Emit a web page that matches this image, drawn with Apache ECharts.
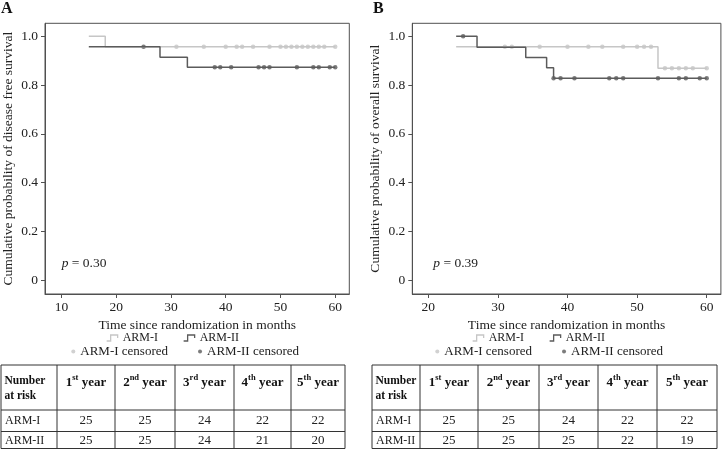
<!DOCTYPE html>
<html><head><meta charset="utf-8">
<script src="https://cdn.jsdelivr.net/npm/echarts@6/dist/echarts.min.js"></script>
<style>html,body{margin:0;padding:0;background:#fff}#c{width:722px;height:449px}</style>
</head><body><div id="c"></div>
<script>
// ---- Panel A: disease free survival ----
const dfsArm1Time = [15, 18, 60];
const dfsArm1Surv = [1.0, 0.957, 0.957];
const dfsArm2Time = [15, 28, 33, 60];
const dfsArm2Surv = [0.957, 0.914, 0.873, 0.873];
const dfsArm1Censor = [31, 36, 40, 42, 43, 45, 48, 50, 51, 52, 53, 54, 55, 56, 57, 58, 60];
const dfsArm2Censor = [25, 38, 39, 41, 46, 47, 48, 53, 56, 57, 59, 60];
// ---- Panel B: overall survival ----
const osArm1Time = [24, 53, 60];
const osArm1Surv = [0.957, 0.869, 0.869];
const osArm2Time = [24, 27, 34, 37, 38, 60];
const osArm2Surv = [1.0, 0.955, 0.913, 0.871, 0.828, 0.828];
const osArm1Censor = [31, 32, 36, 40, 43, 45, 48, 50, 51, 52, 54, 55, 56, 57, 58, 60];
const osArm2Censor = [25, 38, 39, 41, 46, 47, 48, 53, 56, 57, 59, 60];

const xTicksA = [10, 20, 30, 40, 50, 60];
const xTicksB = [20, 30, 40, 50, 60];
const yTicks = [0, 0.2, 0.4, 0.6, 0.8, 1.0];
const pValueA = '0.30';
const pValueB = '0.39';

// ---- Number at risk tables ----
const riskRowLabels = ['ARM-I', 'ARM-II'];
const riskYearNum = ['1', '2', '3', '4', '5'];
const riskYearSup = ['st', 'nd', 'rd', 'th', 'th'];
const riskA1 = [25, 25, 24, 22, 22];
const riskA2 = [25, 25, 24, 21, 20];
const riskB1 = [25, 25, 24, 22, 22];
const riskB2 = [25, 25, 25, 22, 19];

const FONT = '"Liberation Serif", "Times New Roman", serif';
const LIGHT = '#c6c6c6';
const DARK = '#5b5b5b';
const FRAME = '#505050';

function zip(t, s) { return t.map((v, i) => [v, s[i]]); }
function survAt(t, s, x) { let v = s[0]; for (let i = 0; i < t.length; i++) if (t[i] <= x) v = s[i]; return v; }
function censorPts(t, s, c) { return c.map(x => [x, survAt(t, s, x)]); }

const chart = echarts.init(document.getElementById('c'), null, { renderer: 'canvas' });

function xAxisCfg(grid, min, max, ticks, name) {
  return {
    type: 'value', gridIndex: grid, min: min, max: max,
    name: name, nameLocation: 'middle', nameGap: 21,
    nameTextStyle: { fontFamily: FONT, fontSize: 13.5, color: '#222' },
    axisLine: { show: true, onZero: false, lineStyle: { color: FRAME, width: 1 } },
    axisTick: { show: true, customValues: ticks, length: 4, lineStyle: { color: FRAME } },
    axisLabel: { customValues: ticks, fontFamily: FONT, fontSize: 13.5, color: '#222', margin: 6 },
    splitLine: { show: false }
  };
}
function yAxisCfg(grid, name) {
  return {
    type: 'value', gridIndex: grid, min: -0.0574, max: 1.0533,
    name: name, nameLocation: 'middle', nameGap: 30,
    nameTextStyle: { fontFamily: FONT, fontSize: 13.5, color: '#222' },
    axisLine: { show: true, onZero: false, lineStyle: { color: FRAME, width: 1 } },
    axisTick: { show: true, customValues: yTicks, length: 4, lineStyle: { color: FRAME } },
    axisLabel: { customValues: yTicks, fontFamily: FONT, fontSize: 13.5, color: '#222', margin: 7,
      formatter: v => (v === 0 ? '0' : v.toFixed(1)) },
    splitLine: { show: false }
  };
}
function lineSeries(name, grid, t, s, color) {
  return { type: 'line', name: name, xAxisIndex: grid, yAxisIndex: grid, step: 'end',
    data: zip(t, s), showSymbol: false, silent: true,
    lineStyle: { color: color, width: 1.5 }, itemStyle: { color: color } };
}
function censorSeries(name, grid, t, s, c, color) {
  return { type: 'scatter', name: name, xAxisIndex: grid, yAxisIndex: grid,
    data: censorPts(t, s, c), symbol: 'circle', symbolSize: 4.5, silent: true,
    itemStyle: { color: color } };
}

const stepIcon = 'path://M0,6H4V0H11V3';
function legendRow1(left, top) {
  return {
    left: left, top: top, orient: 'horizontal', itemGap: 25, itemWidth: 11, itemHeight: 6,
    selectedMode: false, padding: 0,
    textStyle: { fontFamily: FONT, fontSize: 12, color: '#222' },
    data: [
      { name: 'ARM-I', icon: stepIcon, itemStyle: { color: 'rgba(0,0,0,0)', borderColor: LIGHT, borderWidth: 1.3 } },
      { name: 'ARM-II', icon: stepIcon, itemStyle: { color: 'rgba(0,0,0,0)', borderColor: DARK, borderWidth: 1.3 } }
    ]
  };
}
function legendRow2(left, top) {
  return {
    left: left, top: top, orient: 'horizontal', itemGap: 30, itemWidth: 4, itemHeight: 4,
    selectedMode: false, padding: 0,
    textStyle: { fontFamily: FONT, fontSize: 13, color: '#222' },
    data: [
      { name: 'ARM-I censored', icon: 'circle', itemStyle: { color: LIGHT } },
      { name: 'ARM-II censored', icon: 'circle', itemStyle: { color: DARK } }
    ]
  };
}

function buildTable(colX, r1, r2) {
  const els = [];
  const rowY = [365, 410, 431.5, 448.5];
  const x0 = colX[0], x1 = colX[colX.length - 1];
  rowY.forEach(y => els.push({ type: 'line', silent: true, shape: { x1: x0, y1: y, x2: x1, y2: y },
    style: { stroke: '#333', lineWidth: 1 } }));
  colX.forEach(x => els.push({ type: 'line', silent: true, shape: { x1: x, y1: rowY[0], x2: x, y2: rowY[3] },
    style: { stroke: '#333', lineWidth: 1 } }));
  els.push({ type: 'text', silent: true, x: x0 + 3.5, y: 381.5,
    style: { text: 'Number', font: 'bold 11.5px ' + FONT, fill: '#111', textAlign: 'left', textVerticalAlign: 'middle' } });
  els.push({ type: 'text', silent: true, x: x0 + 3.5, y: 396,
    style: { text: 'at risk', font: 'bold 11.5px ' + FONT, fill: '#111', textAlign: 'left', textVerticalAlign: 'middle' } });
  for (let i = 0; i < 5; i++) {
    const cx = (colX[i + 1] + colX[i + 2]) / 2;
    els.push({ type: 'text', silent: true, x: cx, y: 381.5,
      style: {
        text: '{b|' + riskYearNum[i] + '}{s|' + riskYearSup[i] + '}{b| year}',
        textAlign: 'center', textVerticalAlign: 'middle', fill: '#111',
        rich: {
          b: { fontFamily: FONT, fontWeight: 'bold', fontSize: 13, lineHeight: 16, verticalAlign: 'bottom', fill: '#111' },
          s: { fontFamily: FONT, fontWeight: 'bold', fontSize: 8.5, lineHeight: 10, verticalAlign: 'top', fill: '#111' }
        }
      } });
    [[r1, 420.5], [r2, 440.5]].forEach(([arr, y]) => {
      els.push({ type: 'text', silent: true, x: cx, y: y,
        style: { text: String(arr[i]), font: '13px ' + FONT, fill: '#222', textAlign: 'center', textVerticalAlign: 'middle' } });
    });
  }
  els.push({ type: 'text', silent: true, x: x0 + 4, y: 420.5,
    style: { text: riskRowLabels[0], font: '12px ' + FONT, fill: '#222', textAlign: 'left', textVerticalAlign: 'middle' } });
  els.push({ type: 'text', silent: true, x: x0 + 4, y: 440.5,
    style: { text: riskRowLabels[1], font: '12px ' + FONT, fill: '#222', textAlign: 'left', textVerticalAlign: 'middle' } });
  return els;
}

function pText(x, val) {
  return { type: 'text', silent: true, x: x, y: 263,
    style: { text: '{i|p} = ' + val, font: '13.5px ' + FONT, fill: '#222', textAlign: 'left', textVerticalAlign: 'middle',
      rich: { i: { fontFamily: FONT, fontStyle: 'italic', fontSize: 13.5, fill: '#222' } } } };
}

const option = {
  animation: false,
  backgroundColor: '#fff',
  grid: [
    { left: 40.7, top: 23.3, width: 308.6, height: 270.7, show: true, borderColor: FRAME, borderWidth: 1, backgroundColor: 'transparent' },
    { left: 412.3, top: 23.3, width: 308.6, height: 270.7, show: true, borderColor: FRAME, borderWidth: 1, backgroundColor: 'transparent' }
  ],
  xAxis: [
    xAxisCfg(0, 7.0, 62.57, xTicksA, 'Time since randomization in months'),
    xAxisCfg(1, 17.7, 62.04, xTicksB, 'Time since randomization in months')
  ],
  yAxis: [
    yAxisCfg(0, 'Cumulative probability of disease free survival'),
    yAxisCfg(1, 'Cumulative probability of overall survival')
  ],
  legend: [legendRow1(106, 332), legendRow2(71.3, 345), legendRow1(472, 332), legendRow2(435.3, 345)],
  series: [
    lineSeries('ARM-I', 0, dfsArm1Time, dfsArm1Surv, LIGHT),
    lineSeries('ARM-II', 0, dfsArm2Time, dfsArm2Surv, DARK),
    censorSeries('ARM-I censored', 0, dfsArm1Time, dfsArm1Surv, dfsArm1Censor, LIGHT),
    censorSeries('ARM-II censored', 0, dfsArm2Time, dfsArm2Surv, dfsArm2Censor, DARK),
    lineSeries('ARM-I', 1, osArm1Time, osArm1Surv, LIGHT),
    lineSeries('ARM-II', 1, osArm2Time, osArm2Surv, DARK),
    censorSeries('ARM-I censored', 1, osArm1Time, osArm1Surv, osArm1Censor, LIGHT),
    censorSeries('ARM-II censored', 1, osArm2Time, osArm2Surv, osArm2Censor, DARK)
  ],
  graphic: [
    { type: 'text', silent: true, x: 1, y: 1, style: { text: 'A', font: 'bold 16px ' + FONT, fill: '#111' } },
    { type: 'text', silent: true, x: 373, y: 1, style: { text: 'B', font: 'bold 16px ' + FONT, fill: '#111' } },
    pText(61.7, pValueA),
    pText(433.3, pValueB)
  ].concat(buildTable([1, 57, 115, 175, 234, 291, 345], riskA1, riskA2))
   .concat(buildTable([372, 420, 478, 539, 598, 657, 717], riskB1, riskB2))
};
chart.setOption(option);
</script>
</body></html>
